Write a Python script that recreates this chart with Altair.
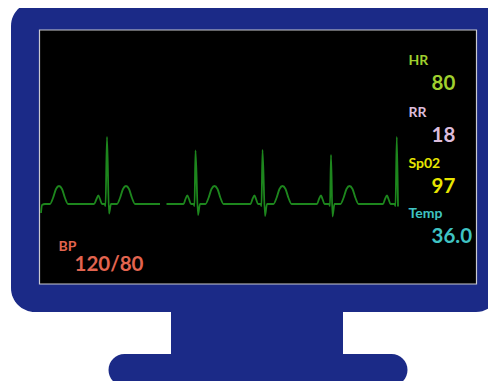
import altair as alt
import pandas as pd

# ---- data ----
vital_labels = ["HR", "RR", "Sp02", "Temp"]
vital_values = ["80", "18", "97", "36.0"]
vital_colors = ["#9fcf2e", "#dcbcdc", "#e8e600", "#3fc3c3"]
bp_label = "BP"
bp_value = "120/80"
bp_color = "#e2644f"

# ECG trace (screen coordinates), two segments
ecg_x = [41, 42, 45, 50, 53, 56, 59, 62, 65, 68, 94, 96.5, 98.3, 100, 102, 104.5, 105.5, 107, 109, 111,
         117, 120, 123, 126, 129, 132, 135, 160,
         166.5, 183.5, 185.5, 187.3, 189, 191, 193.5, 194.5, 195.5, 198, 200,
         205.5, 208.5, 211.5, 214.5, 217.5, 220.5, 223.5,
         250.5, 252.5, 254.5, 256, 258, 260.5, 261.5, 262.5, 265, 267,
         273.5, 276.5, 279.5, 282.5, 285.5, 288.5, 291.5,
         317, 319, 321, 322.5, 324.5, 329, 330, 331, 332.5, 334.5,
         340.5, 343.5, 346.5, 349.5, 352.5, 355.5, 358.5,
         383, 385, 387, 388.5, 390.5, 394.5, 395.5, 396.8, 398]
ecg_y = [213, 205, 204, 204, 198, 189, 186, 189, 198, 204, 204, 199, 195.5, 199, 204, 204, 206, 137, 213.5, 204,
         204, 198, 189, 186, 189, 198, 204, 204,
         204, 204, 199, 195.5, 199, 204, 204, 206, 150.5, 215, 204,
         204, 198, 189, 186, 189, 198, 204,
         204, 199, 195.5, 199, 204, 204, 206, 150, 216, 204,
         204, 198, 189, 186, 189, 198, 204,
         204, 199, 195.5, 199, 204, 204, 206, 155, 216.5, 204,
         204, 198, 189, 186, 189, 198, 204,
         204, 199, 195.5, 199, 204, 204, 206, 137, 206.5]
ecg_seg = [1] * 28 + [2] * (len(ecg_x) - 28)

# ---- layout (screen pixel coordinates) ----
label_x, value_x = 408.5, 431.5
label_y = [65, 116.5, 168, 217.7]
value_y = [90, 141.5, 192.7, 243.3]

BLUE = "#1b2a87"

XS = alt.Scale(domain=[8, 488], range=[0, 480])
YS = alt.Scale(domain=[8, 381], range=[0, 373])


def xq(f):
    return alt.X(f, type="quantitative", scale=XS, axis=None)


def yq(f):
    return alt.Y(f, type="quantitative", scale=YS, axis=None)


def box(x, x2, y, y2, color, radius=0, stroke=None):
    df = pd.DataFrame({"x": [x], "x2": [x2], "y": [y], "y2": [y2]})
    kw = dict(color=color, cornerRadius=radius)
    if stroke:
        kw.update(stroke=stroke, strokeWidth=1.2)
    return alt.Chart(df).mark_rect(**kw).encode(
        x=xq("x"), x2=alt.X2("x2"), y=yq("y"), y2=alt.Y2("y2"))


body = box(11, 500, 2, 312, BLUE, radius=24)
neck = box(171, 343, 300, 360, BLUE)
base = box(108.5, 407.5, 354, 386, BLUE, radius=16)
screen = box(39.5, 476.5, 30, 284, "#000000", stroke="#c9c9d0")

ecg_df = pd.DataFrame({"x": ecg_x, "y": ecg_y, "seg": ecg_seg})
ecg = alt.Chart(ecg_df).mark_line(color="#1d861d", strokeWidth=1.8, interpolate="monotone").encode(
    x=xq("x"), y=yq("y"), detail="seg:N", order="x:Q")

lab_df = pd.DataFrame({"x": [label_x] * 4 + [58.5], "y": label_y + [250.7],
                       "t": vital_labels + [bp_label], "c": vital_colors + [bp_color]})
val_df = pd.DataFrame({"x": [value_x] * 4 + [74.5], "y": value_y + [270.5],
                       "t": vital_values + [bp_value], "c": vital_colors + [bp_color]})

labels = alt.Chart(lab_df).mark_text(align="left", baseline="alphabetic", font="Lato",
                                     fontSize=14, fontWeight="bold").encode(
    x=xq("x"), y=yq("y"), text="t:N", color=alt.Color("c:N", scale=None))
values = alt.Chart(val_df).mark_text(align="left", baseline="alphabetic", font="Lato",
                                     fontSize=20.5, fontWeight="bold").encode(
    x=xq("x"), y=yq("y"), text="t:N", color=alt.Color("c:N", scale=None))

chart = alt.layer(body, neck, base, screen, ecg, labels, values).properties(
    width=480, height=373, padding=0, background="white",
    autosize=alt.AutoSizeParams(type="none")
).configure_view(stroke=None)

chart.save("out.html", embed_options={"renderer": "svg", "actions": False})
